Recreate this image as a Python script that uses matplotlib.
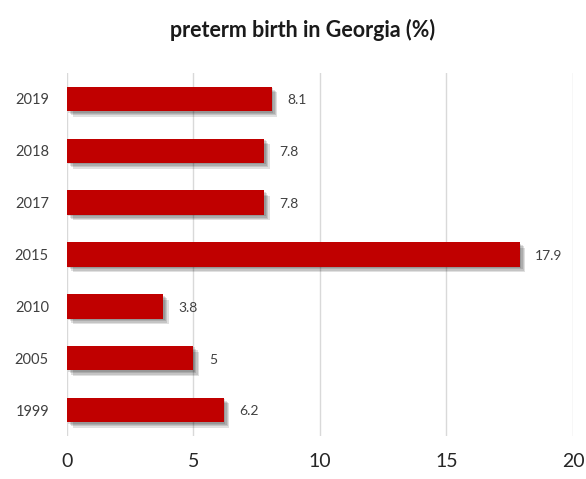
import matplotlib
import matplotlib.pyplot as plt
import matplotlib.patheffects as pe

matplotlib.use("Agg")

years = ["1999", "2005", "2010", "2015", "2017", "2018", "2019"]
preterm_pct = [6.2, 5, 3.8, 17.9, 7.8, 7.8, 8.1]
value_labels = ["6.2", "5", "3.8", "17.9", "7.8", "7.8", "8.1"]
x_ticks = [0, 5, 10, 15, 20]

BAR = "#c00000"
GRID = "#d9d9d9"
LABEL = "#404040"

plt.rcParams["font.family"] = ["Lato", "DejaVu Sans"]

fig = plt.figure(figsize=(5.86, 4.79), dpi=100)
ax = fig.add_axes([0.1143, 0.0898, 0.8635, 0.7578])

bars = ax.barh(range(len(years)), preterm_pct, height=0.47, color=BAR, zorder=3)
# soft drop shadow: a few faint offset copies stacked under each bar
shadow = [pe.SimplePatchShadow(offset=(d, -d), shadow_rgbFace="black", alpha=0.12)
          for d in (1, 2, 3, 4)]
for b in bars:
    b.set_path_effects(shadow + [pe.Normal()])

for i, (v, lab) in enumerate(zip(preterm_pct, value_labels)):
    ax.annotate(lab, xy=(v, i), xytext=(11, -1), textcoords="offset points",
                va="center", ha="left", fontsize=10, color=LABEL)

ax.set_xlim(0, 20)
ax.set_ylim(-0.5, len(years) - 0.5)
ax.set_xticks(x_ticks)
ax.set_xticklabels([str(t) for t in x_ticks], fontsize=14, color="#262626")
ax.set_yticks(range(len(years)))
ax.set_yticklabels(years, fontsize=10.5, color=LABEL)
ax.tick_params(axis="x", length=0, pad=12)
ax.tick_params(axis="y", length=0, pad=13)

for s in ax.spines.values():
    s.set_visible(False)
ax.xaxis.grid(True, color=GRID, linewidth=1, zorder=0)
ax.set_axisbelow(True)

fig.text(0.516, 0.937, "preterm birth in Georgia (%)", ha="center", va="center",
         fontsize=15.5, fontweight="bold", color="#1a1a1a")

fig.savefig("out.png", dpi=100)
